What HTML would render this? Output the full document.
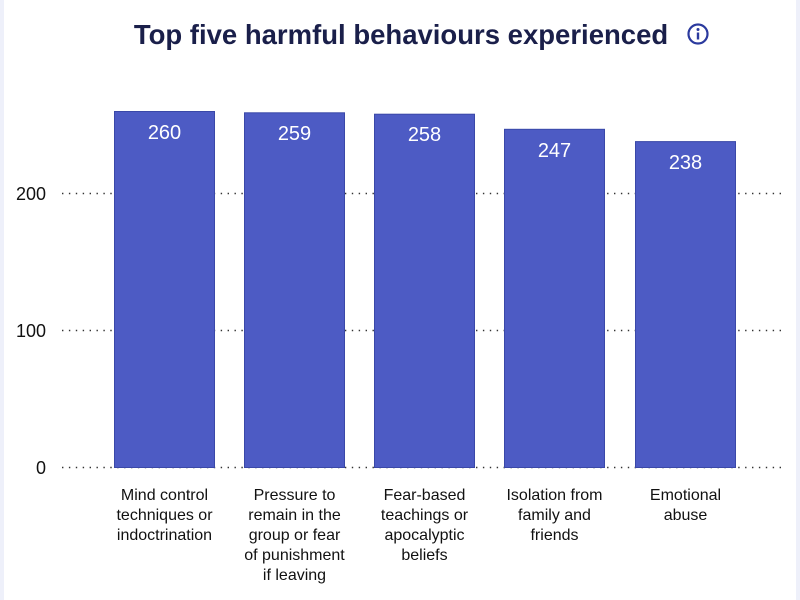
<!DOCTYPE html>
<html><head><meta charset="utf-8"><style>
html,body{margin:0;padding:0;background:#fff;}
svg{display:block;font-family:"Liberation Sans",Arial,sans-serif;}
</style></head><body>
<svg width="800" height="600" viewBox="0 0 800 600">
<rect width="800" height="600" fill="#fff"/>
<rect x="0" y="0" width="4" height="600" fill="#eef0fa"/>
<rect x="796" y="0" width="4" height="600" fill="#eef0fa"/>
<text x="401" y="44" text-anchor="middle" font-size="27.5" font-weight="bold" fill="#1a1f4a">Top five harmful behaviours experienced</text>
<circle cx="698" cy="34" r="9.5" fill="none" stroke="#2b3a9e" stroke-width="2.2"/>
<circle cx="698" cy="29.5" r="1.5" fill="#2b3a9e"/>
<rect x="696.8" y="32.5" width="2.4" height="7" fill="#2b3a9e"/>
<g stroke="#333" stroke-width="1.4" stroke-dasharray="1.4 5.5">
<line x1="62" y1="193.5" x2="785" y2="193.5"/>
<line x1="62" y1="330.5" x2="785" y2="330.5"/>
<line x1="62" y1="467.5" x2="785" y2="467.5"/>
</g>
<g font-size="18" fill="#111" text-anchor="end">
<text x="46" y="200">200</text>
<text x="46" y="337">100</text>
<text x="46" y="474">0</text>
</g>
<g fill="#4d5bc4" stroke="#3a48a8" stroke-width="1">
<rect x="114.5" y="111.5" width="100" height="356"/>
<rect x="244.5" y="112.8" width="100" height="354.7"/>
<rect x="374.5" y="114.2" width="100" height="353.3"/>
<rect x="504.5" y="129.3" width="100" height="338.2"/>
<rect x="635.5" y="141.6" width="100" height="325.9"/>
</g>
<g font-size="20" fill="#fff" text-anchor="middle">
<text x="164.5" y="139">260</text>
<text x="294.5" y="140">259</text>
<text x="424.5" y="141">258</text>
<text x="554.5" y="157">247</text>
<text x="685.5" y="169">238</text>
</g>
<g font-size="16" fill="#111" text-anchor="middle">
<text x="164.5" y="500">Mind control</text>
<text x="164.5" y="520">techniques or</text>
<text x="164.5" y="540">indoctrination</text>
<text x="294.5" y="500">Pressure to</text>
<text x="294.5" y="520">remain in the</text>
<text x="294.5" y="540">group or fear</text>
<text x="294.5" y="560">of punishment</text>
<text x="294.5" y="580">if leaving</text>
<text x="424.5" y="500">Fear-based</text>
<text x="424.5" y="520">teachings or</text>
<text x="424.5" y="540">apocalyptic</text>
<text x="424.5" y="560">beliefs</text>
<text x="554.5" y="500">Isolation from</text>
<text x="554.5" y="520">family and</text>
<text x="554.5" y="540">friends</text>
<text x="685.5" y="500">Emotional</text>
<text x="685.5" y="520">abuse</text>
</g>
</svg>
</body></html>
